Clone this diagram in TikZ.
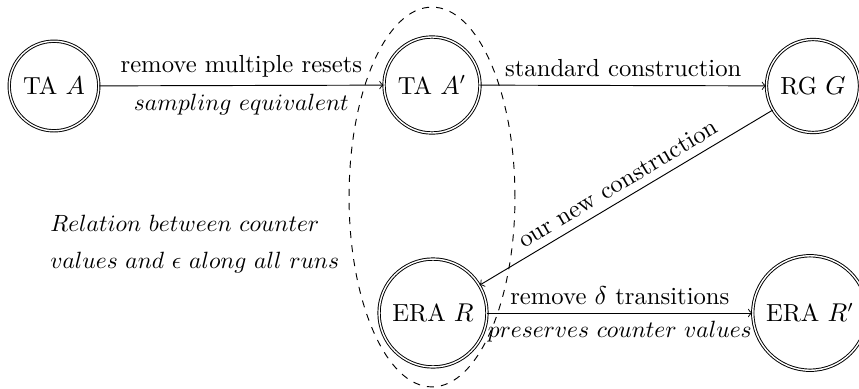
\documentclass[tikz,border=0pt]{standalone}
\usetikzlibrary{shapes.geometric}
\begin{document}
\begin{tikzpicture}[x=0.4255pt,y=-0.4255pt,
  every node/.style={font=\fontsize{10.5pt}{13pt}\selectfont},
  mathlbl/.style={font=\fontsize{9.85pt}{12pt}\selectfont},
  stateNode/.style={circle,draw,double,inner sep=4.2pt},
  edge/.style={->}]
\useasboundingbox (0,0) rectangle (859,388);

% automata
\node[stateNode] (ta)  at (54,86)  {TA $A$};
\node[stateNode] (tap) at (432,85) {TA $A'$};
\node[stateNode] (rg)  at (813,86) {RG $G$};
\node[stateNode] (era) at (433,313) {ERA $R$};
\node[stateNode] (erap) at (810,313) {ERA $R'$};

% transformations
\draw[edge] (ta) -- node[above] {remove multiple resets}
                    node[below,mathlbl] {$sampling\ equivalent$} (tap);
\draw[edge] (tap) -- node[above] {standard construction} (rg);
\draw[edge] (rg) -- node[above,sloped] {our new construction} (era);
\draw[edge] (era) -- node[above] {remove $\delta$ transitions}
                     node[below,mathlbl] {$preserves\ counter\ values$} (erap);

% grouping of A' and R
\draw[dashed] (432,197) ellipse [x radius=35.3pt, y radius=80.8pt];
\node[mathlbl,align=left,anchor=west] (rel) at (42,244)
  {$Relation\ between\ counter$\\[4pt] $values\ and\ \epsilon\ along\ all\ runs$};
\end{tikzpicture}
\end{document}
